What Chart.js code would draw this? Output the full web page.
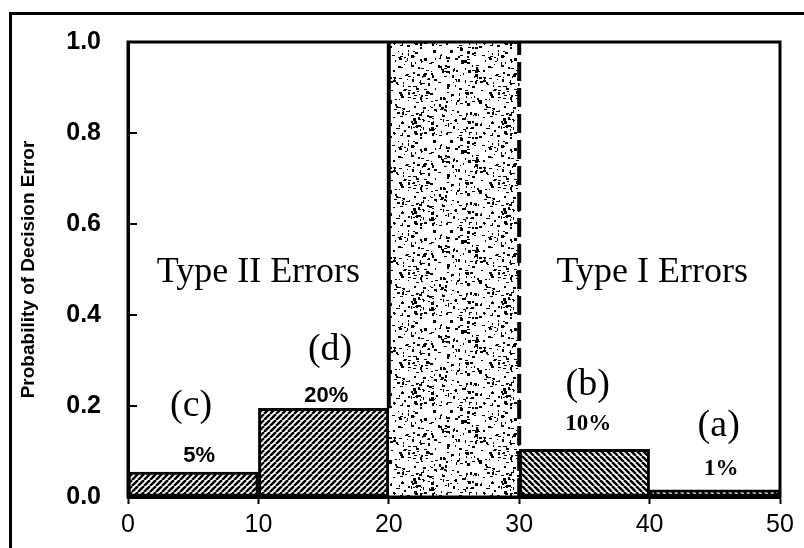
<!DOCTYPE html>
<html>
<head>
<meta charset="utf-8">
<script src="https://cdn.jsdelivr.net/npm/chart.js@4/dist/chart.umd.min.js"></script>
<style>
  html, body { margin: 0; padding: 0; background: #fff; }
  #wrap { width: 804px; height: 548px; position: relative; }
</style>
</head>
<body>
<div id="wrap"><canvas id="c" width="804" height="548"></canvas></div>
<script>
// ---- data ----
const xTickValues = [0, 10, 20, 30, 40, 50];
const binCenters = [5, 15, 35, 45];
const errorProb = [0.055, 0.195, 0.105, 0.016];
const binLetters = ['(c)', '(d)', '(b)', '(a)'];
const percentLabels = ['5%', '20%', '10%', '1%'];
const grayZoneBounds = [20, 30];
const grayZoneCenter = [25];
const grayZoneHeight = [1.0];
const regionTitles = ['Type II Errors', 'Type I Errors'];

// ---- annotation anchor positions (data coords) ----
const letterPos = [[4.84, 0.20], [15.5, 0.324], [35.25, 0.246], [45.3, 0.157]];
const pctPos = [[5.45, 0.091], [15.2, 0.222], [35.3, 0.161], [45.5, 0.061]];
const regionTitlePos = [[10.0, 0.493], [40.2, 0.493]];

// ---- patterns ----
function hatch(dir) {
  const s = 6, cv = document.createElement('canvas');
  cv.width = s; cv.height = s;
  const g = cv.getContext('2d');
  g.fillStyle = '#fff'; g.fillRect(0, 0, s, s);
  g.strokeStyle = '#000'; g.lineWidth = 2.5;
  for (let k = -1; k <= 1; k++) {
    g.beginPath();
    if (dir > 0) { g.moveTo(k * s, s); g.lineTo(k * s + s, 0); }
    else { g.moveTo(k * s, 0); g.lineTo(k * s + s, s); }
    g.stroke();
  }
  return g.createPattern(cv, 'repeat');
}
function stipple() {
  const s = 90, cv = document.createElement('canvas');
  cv.width = s; cv.height = s;
  const g = cv.getContext('2d');
  g.fillStyle = '#fff'; g.fillRect(0, 0, s, s);
  g.fillStyle = '#000';
  let seed = 12345;
  const rnd = () => { seed = (seed * 1103515245 + 12345) & 0x7fffffff; return seed / 0x7fffffff; };
  for (let i = 0; i < 380; i++) {
    const x = rnd() * s, y = rnd() * s;
    const w = 1 + Math.floor(rnd() * 3), h = 1 + Math.floor(rnd() * 2.4);
    g.fillRect(Math.floor(x), Math.floor(y), w, h);
  }
  return g.createPattern(cv, 'repeat');
}
const fwd = hatch(1), back = hatch(-1), dots = stipple();
const barFills = [fwd, fwd, back, back];

// ---- plugin: frames, inward ticks, annotations ----
const decor = {
  id: 'decor',
  afterDraw(chart) {
    const ctx = chart.ctx, a = chart.chartArea;
    const xs = chart.scales.x, ys = chart.scales.y;
    ctx.save();
    // outer frame lines
    ctx.strokeStyle = '#000'; ctx.lineWidth = 3;
    ctx.beginPath(); ctx.moveTo(10.5, 548); ctx.lineTo(10.5, 13.5); ctx.lineTo(804, 13.5); ctx.stroke();
    // plot box
    ctx.lineWidth = 3;
    ctx.strokeRect(a.left, a.top, a.right - a.left, a.bottom - a.top);
    // inward y ticks
    ctx.lineWidth = 2;
    ys.ticks.forEach(t => {
      const py = ys.getPixelForValue(t.value);
      ctx.beginPath(); ctx.moveTo(a.left, py); ctx.lineTo(a.left + 9, py); ctx.stroke();
    });
    ctx.fillStyle = '#000';
    ctx.textAlign = 'center'; ctx.textBaseline = 'middle';
    // region titles
    ctx.font = '36px "Liberation Serif", "Times New Roman", serif';
    regionTitles.forEach((t, i) => {
      ctx.fillText(t, xs.getPixelForValue(regionTitlePos[i][0]), ys.getPixelForValue(regionTitlePos[i][1]));
    });
    // letters
    ctx.font = '38px "Liberation Serif", "Times New Roman", serif';
    binLetters.forEach((t, i) => {
      ctx.fillText(t, xs.getPixelForValue(letterPos[i][0]), ys.getPixelForValue(letterPos[i][1]));
    });
    // percents
    percentLabels.forEach((t, i) => {
      ctx.font = i < 2 ? 'bold 22px "Liberation Sans", Arial, sans-serif'
                       : 'bold 23px "Liberation Serif", "Times New Roman", serif';
      ctx.fillText(t, xs.getPixelForValue(pctPos[i][0]), ys.getPixelForValue(pctPos[i][1]));
    });
    ctx.restore();
  }
};

new Chart(document.getElementById('c'), {
  type: 'bar',
  data: {
    datasets: [
      {
        type: 'bar',
        data: binCenters.map((x, i) => ({ x, y: errorProb[i] })),
        backgroundColor: barFills,
        borderColor: '#000',
        borderWidth: 3,
        borderSkipped: false,
        grouped: false,
        barPercentage: 1.0,
        categoryPercentage: 1.0,
        order: 2
      },
      {
        type: 'bar',
        data: grayZoneCenter.map((x, i) => ({ x, y: grayZoneHeight[i] })),
        backgroundColor: dots,
        borderWidth: 0,
        grouped: false,
        barPercentage: 1.0,
        categoryPercentage: 1.0,
        order: 3
      },
      {
        type: 'line',
        data: [{ x: grayZoneBounds[0], y: errorProb[1] }, { x: grayZoneBounds[0], y: grayZoneHeight[0] }],
        borderColor: '#000', borderWidth: 4, pointRadius: 0, order: 1
      },
      {
        type: 'line',
        data: [{ x: grayZoneBounds[1], y: 0 }, { x: grayZoneBounds[1], y: grayZoneHeight[0] }],
        borderColor: '#000', borderWidth: 4, borderDash: [19, 7], pointRadius: 0, order: 1
      }
    ]
  },
  options: {
    responsive: false,
    animation: false,
    layout: { padding: { top: 38, right: 24, left: 0, bottom: 0 } },
    plugins: { legend: { display: false }, tooltip: { enabled: false } },
    scales: {
      x: {
        type: 'linear', min: 0, max: 50, offset: false,
        afterBuildTicks: s => { s.ticks = xTickValues.map(v => ({ value: v })); },
        ticks: { color: '#000', font: { family: '"Liberation Sans", Arial, sans-serif', size: 25 }, padding: 6, maxRotation: 0 },
        grid: { offset: false, drawOnChartArea: false, drawTicks: true, tickLength: 7, tickWidth: 2, tickColor: '#000' },
        border: { display: true, color: '#000', width: 3 },
        afterFit: s => { s.height = 51; }
      },
      y: {
        min: 0, max: 1,
        ticks: { stepSize: 0.2, color: '#000', padding: 27,
                 font: { family: '"Liberation Sans", Arial, sans-serif', size: 25, weight: 'bold' },
                 callback: v => Number(v).toFixed(1) },
        grid: { offset: false, drawOnChartArea: false, drawTicks: false },
        border: { display: true, color: '#000', width: 3 },
        title: { display: true, text: 'Probability of Decision Error', color: '#000',
                 font: { family: '"Liberation Sans", Arial, sans-serif', size: 19, weight: 'bold' },
                 padding: { top: 17, bottom: 0 } },
        afterFit: s => { s.width = 128; }
      }
    }
  },
  plugins: [decor]
});
</script>
</body>
</html>
